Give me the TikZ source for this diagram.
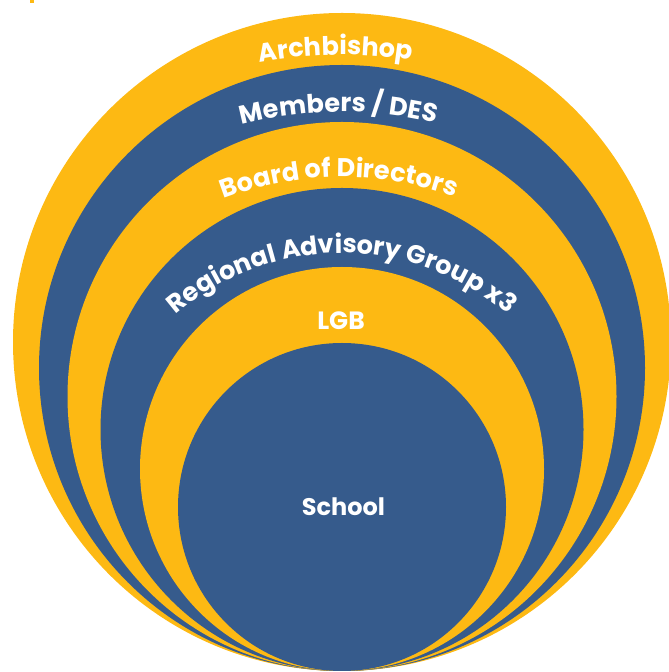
\documentclass[tikz,border=0pt]{standalone}
\usepackage{fontspec}
\setmainfont{Poppins}
\usetikzlibrary{decorations.text}
\definecolor{gold}{HTML}{FDB913}
\definecolor{navy}{HTML}{365B8C}
\newcommand{\lblfont}{\fontsize{24}{28}\selectfont\bfseries}
\newcommand{\arcfont}{\fontsize{25.6}{30}\selectfont\bfseries}
\tikzset{
  arclabel/.style={decorate, decoration={text along path, text align=center, text color=white, text={#1}}},
  flatlabel/.style={text=white, font=\lblfont, inner sep=0pt}
}
\begin{document}
\begin{tikzpicture}[x=1pt,y=1pt]
\useasboundingbox (0,0) rectangle (669,672);
% small stray mark
\fill[gold] (29.5,669) rectangle (34,672);
% nested circles tangent at the bottom
\fill[gold] (342,330) circle (329);
\fill[navy] (342,304) circle (303);
\fill[gold] (342,275.5) circle (274.5);
\fill[navy] (342,242.5) circle (241.5);
\fill[gold] (342,203) circle (202);
\fill[navy] (342,165) circle (164);
\coordinate (c) at (342,165);
% curved labels
\path[arclabel={|\arcfont|Archbishop}] (c) ++(150.8:452) arc[start angle=150.8, end angle=30.8, radius=452];
\path[arclabel={|\arcfont|Members / DES}] (c) ++(150.5:395) arc[start angle=150.5, end angle=30.5, radius=395];
\path[arclabel={|\arcfont|Board of Directors}] (c) ++(160.5:330) arc[start angle=160.5, end angle=20.5, radius=330];
\path[arclabel={|\arcfont|Regional Advisory Group x3}] (c) ++(170:254) arc[start angle=170, end angle=10, radius=254];
\node[flatlabel, anchor=base, font=\fontsize{25}{28}\selectfont\bfseries] (lgb) at (341,342) {LGB};
\node[flatlabel] (school) at (343.5,165) {School};
\end{tikzpicture}
\end{document}
